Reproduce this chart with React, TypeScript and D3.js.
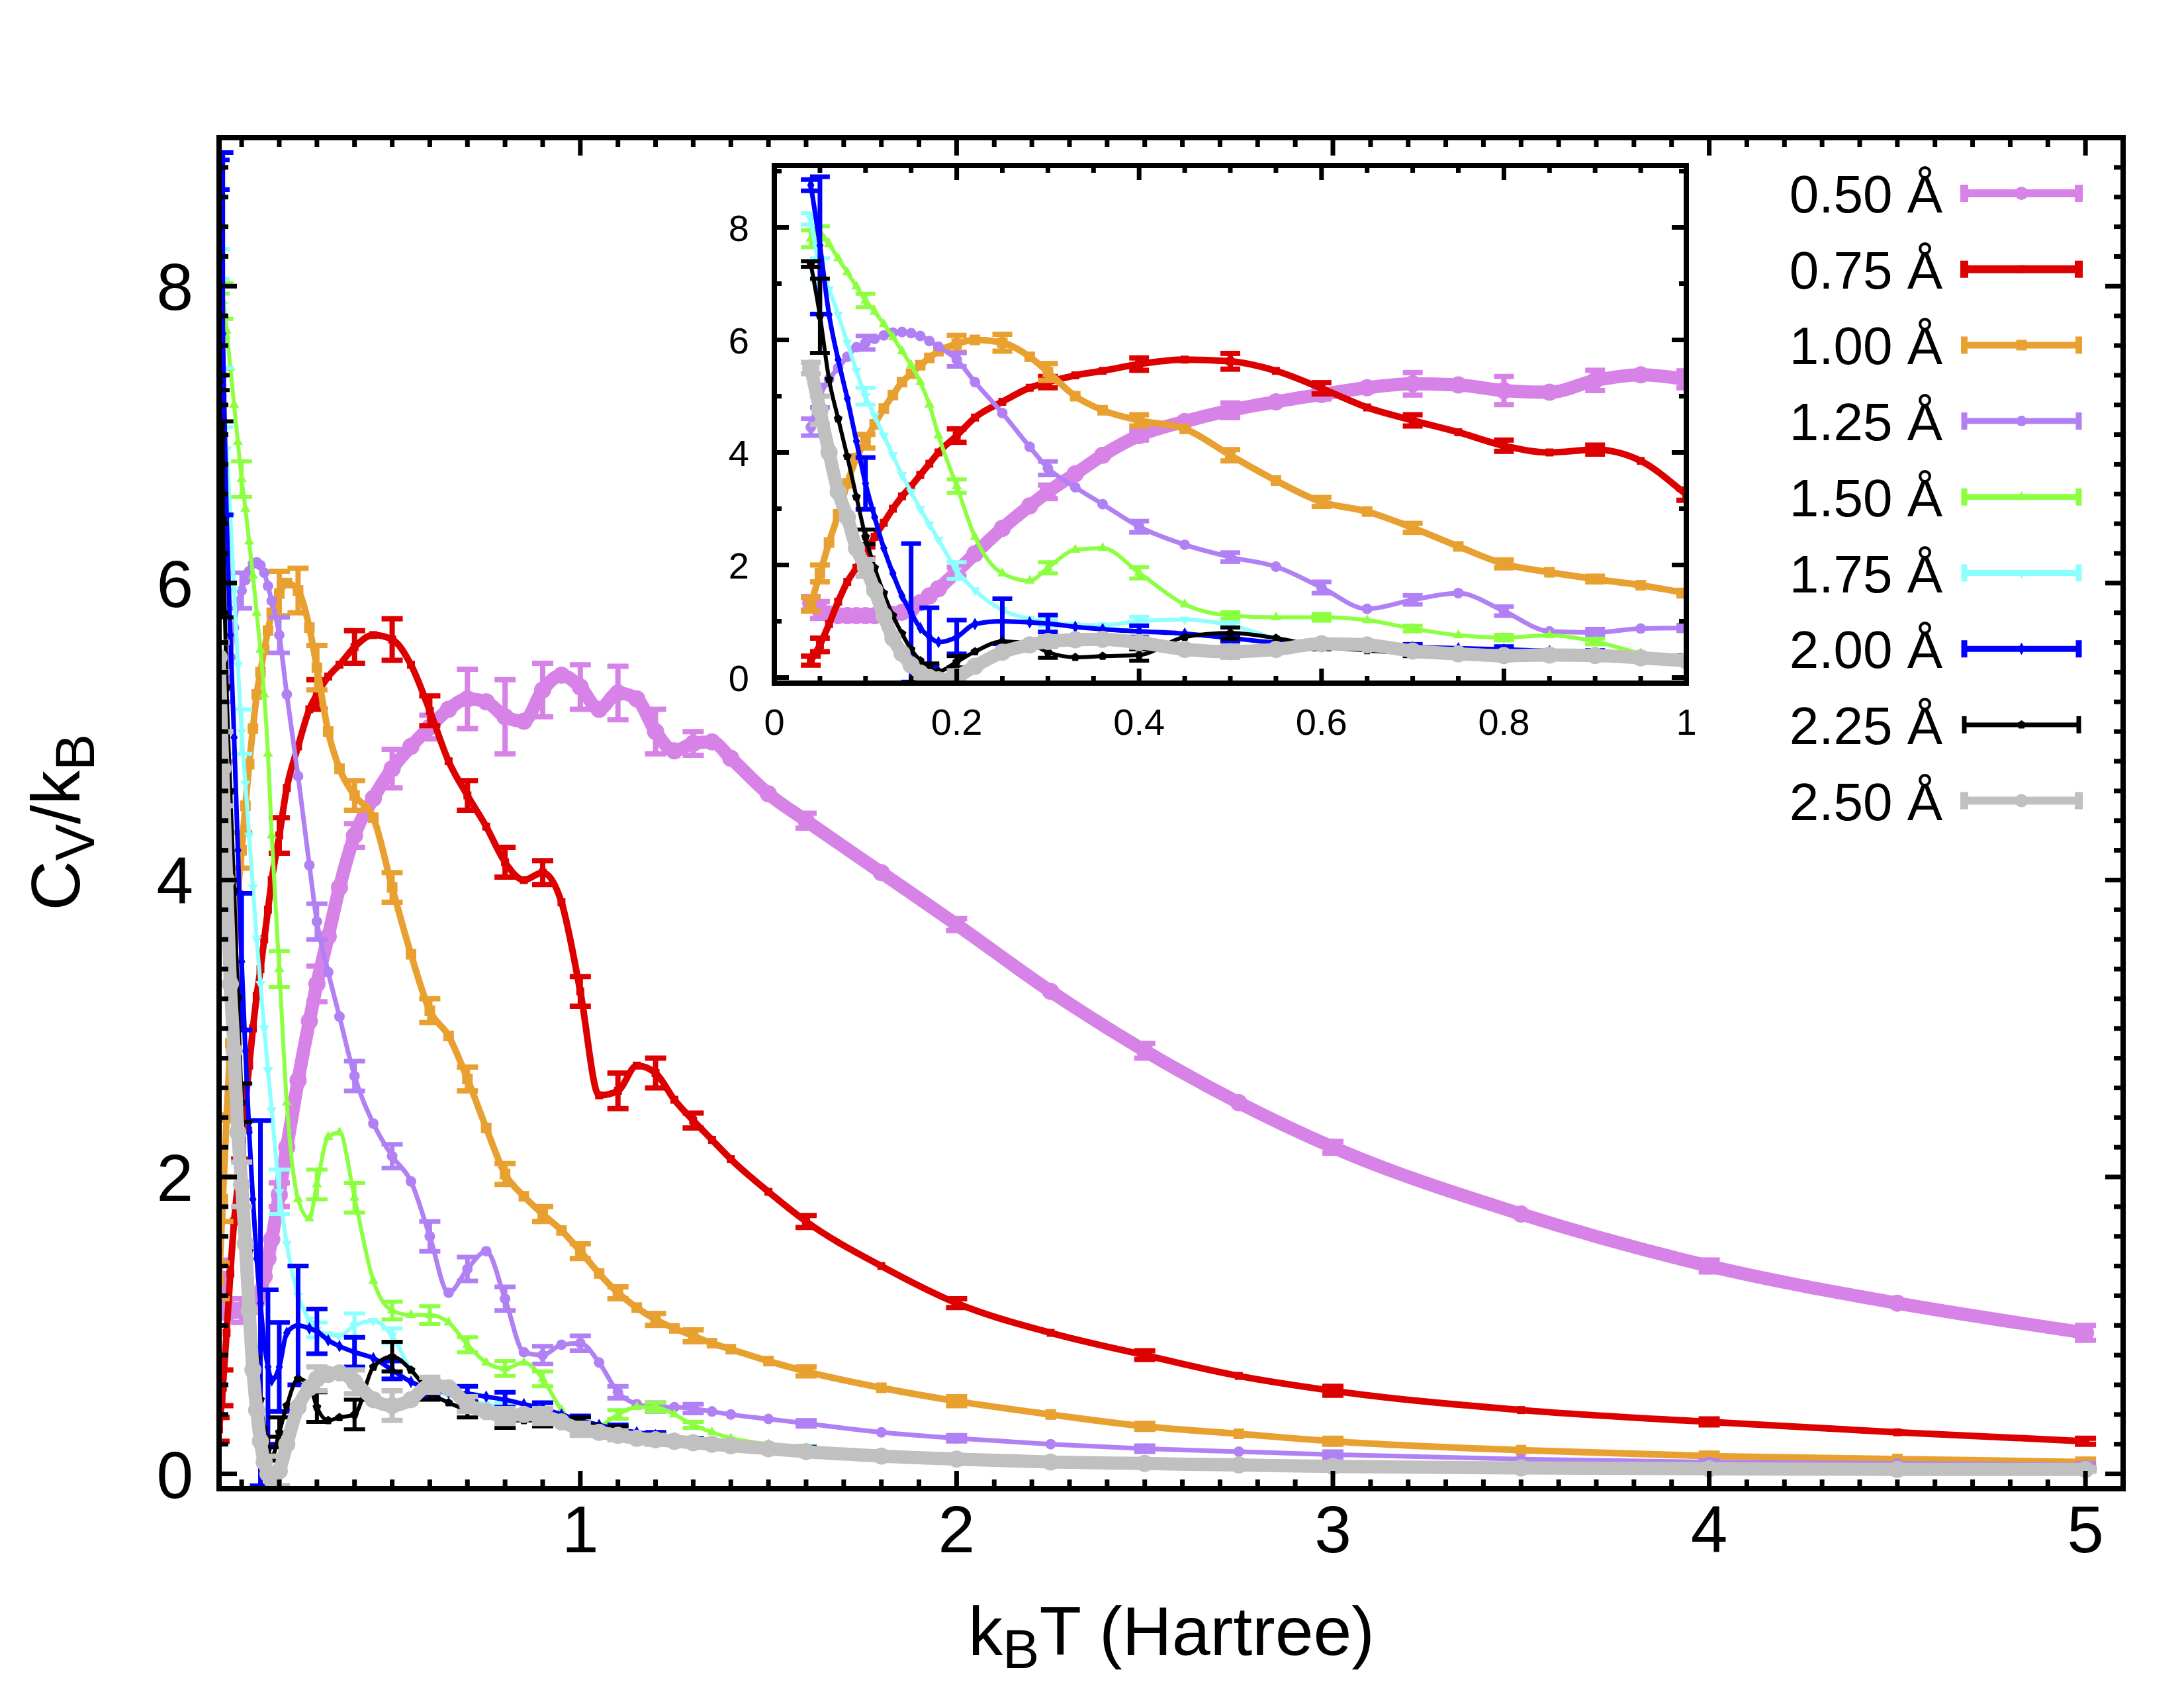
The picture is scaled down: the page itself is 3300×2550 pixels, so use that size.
import React from "react";
import * as d3 from "d3";

// ---------------- data ----------------
const temperature = [
  0.04, 0.05, 0.06, 0.07, 0.08, 0.09,
  0.10, 0.11, 0.12, 0.13, 0.14, 0.15, 0.16, 0.17, 0.18,
  0.20, 0.22, 0.25, 0.28, 0.30,
  0.33, 0.36, 0.40,
  0.45, 0.50, 0.55, 0.60, 0.65, 0.70, 0.75, 0.80, 0.85, 0.90, 0.95, 1.00,
  1.05, 1.10, 1.15, 1.20, 1.25, 1.30, 1.35, 1.40,
  1.50, 1.60, 1.80, 2.00,
  2.25, 2.50, 2.75, 3.00,
  3.50, 4.00, 4.50, 5.00,
];

const cv050 = [
  1.32, 1.2, 1.13, 1.1, 1.1, 1.1,
  1.1, 1.1, 1.1, 1.12, 1.16, 1.22, 1.33, 1.45, 1.58,
  1.88, 2.2, 2.65, 3.05, 3.3,
  3.62, 3.95, 4.3,
  4.55, 4.75, 4.9, 5.03, 5.15, 5.22, 5.2, 5.1, 5.07, 5.28, 5.38, 5.3,
  5.15, 5.26, 5.22, 5.0, 4.87, 4.92, 4.93, 4.82,
  4.58, 4.4, 4.05, 3.7,
  3.25, 2.85, 2.5, 2.2,
  1.75, 1.4, 1.15, 0.95,
];
const cv075 = [
  0.3, 0.58, 0.95, 1.35, 1.7, 1.95,
  2.22, 2.5, 2.75, 3.0, 3.22, 3.4, 3.6, 3.8, 4.0,
  4.3, 4.62, 4.9, 5.15, 5.25,
  5.37, 5.45, 5.57,
  5.65, 5.62, 5.45, 5.14, 4.8, 4.57, 4.36, 4.12, 4.0, 4.05, 3.85, 3.25,
  2.55, 2.58, 2.75, 2.7, 2.52, 2.38, 2.25, 2.12,
  1.9, 1.7, 1.4, 1.15,
  0.95, 0.8, 0.66, 0.56,
  0.43, 0.35, 0.28, 0.22,
];
const cv100 = [
  1.3, 1.85, 2.4, 2.9, 3.45, 3.9,
  4.2, 4.5, 4.78, 5.02, 5.25, 5.4, 5.55, 5.68, 5.8,
  5.93, 6.0, 5.95, 5.7, 5.43,
  5.0, 4.75, 4.57,
  4.42, 3.95, 3.5, 3.12, 2.95, 2.66, 2.33, 2.02, 1.87, 1.75, 1.64, 1.5,
  1.35, 1.22, 1.12, 1.04, 0.98, 0.93, 0.88, 0.84,
  0.76, 0.69, 0.58, 0.49,
  0.4, 0.32, 0.27, 0.22,
  0.16, 0.12, 0.1, 0.08,
];
const cv125 = [
  4.45, 5.0, 5.3, 5.5, 5.7, 5.87,
  5.95, 6.02, 6.08, 6.13, 6.14, 6.12, 6.07, 5.98, 5.88,
  5.65, 5.25, 4.7, 4.1, 3.72,
  3.38, 3.08, 2.68,
  2.36, 2.14, 1.97, 1.6, 1.22, 1.38, 1.5, 1.18, 0.82, 0.8, 0.87, 0.88,
  0.75, 0.55, 0.47, 0.45, 0.45, 0.44, 0.42, 0.4,
  0.37, 0.34, 0.28, 0.24,
  0.2, 0.17, 0.15, 0.13,
  0.1, 0.08, 0.07, 0.06,
];
const cv150 = [
  7.8, 7.9, 7.7, 7.45, 7.2, 6.95,
  6.7, 6.5, 6.28, 6.05, 5.8, 5.55, 5.25, 4.85, 4.3,
  3.4, 2.5, 1.85, 1.72, 1.95,
  2.27, 2.3, 1.86,
  1.3, 1.1, 1.07, 1.07, 1.02, 0.87, 0.75, 0.71, 0.75, 0.64, 0.43, 0.3,
  0.32, 0.4, 0.45, 0.45, 0.4, 0.33, 0.28, 0.24,
  0.2, 0.17, 0.13, 0.1,
  0.08, 0.07, 0.06, 0.05,
  0.04, 0.03, 0.03, 0.03,
];
const cv175 = [
  8.15, 7.25, 6.9, 6.45, 5.95, 5.45,
  5.0, 4.65, 4.3, 3.95, 3.6, 3.3, 3.0, 2.72, 2.45,
  1.9, 1.55, 1.2, 1.04, 0.97,
  0.94, 0.93, 1.0,
  1.03, 0.93, 0.7, 0.58, 0.53, 0.5, 0.47, 0.44, 0.41, 0.38, 0.35, 0.32,
  0.3, 0.28, 0.26, 0.24, 0.23, 0.22, 0.21, 0.2,
  0.18, 0.16, 0.13, 0.1,
  0.08, 0.07, 0.06, 0.05,
  0.04, 0.03, 0.03, 0.02,
];
const cv200 = [
  8.75, 7.68, 6.45, 5.65, 4.96, 4.2,
  3.45, 2.85, 2.3, 1.85, 1.45, 1.15, 0.88, 0.72, 0.63,
  0.72, 0.95, 1.0, 0.98, 0.96,
  0.9, 0.86, 0.82,
  0.78, 0.7, 0.62, 0.57, 0.55, 0.54, 0.52, 0.5, 0.47, 0.44, 0.4, 0.36,
  0.33, 0.3, 0.28, 0.26, 0.24, 0.22, 0.21, 0.2,
  0.18, 0.16, 0.13, 0.1,
  0.09, 0.08, 0.07, 0.06,
  0.05, 0.04, 0.04, 0.03,
];
const cv225 = [
  7.35, 6.43, 5.3, 4.6, 3.93, 3.21,
  2.5, 1.95, 1.5, 1.1, 0.78, 0.5, 0.3, 0.17, 0.11,
  0.28, 0.46, 0.64, 0.6, 0.45,
  0.36, 0.38, 0.4,
  0.72, 0.79, 0.7, 0.55, 0.48, 0.43, 0.39, 0.36, 0.36, 0.36, 0.36, 0.35,
  0.32, 0.29, 0.27, 0.25, 0.23, 0.22, 0.2, 0.19,
  0.17, 0.15, 0.12, 0.1,
  0.08, 0.07, 0.06, 0.05,
  0.04, 0.035, 0.03, 0.03,
];
const cv250 = [
  5.5, 4.75, 4.0, 3.3, 2.85, 2.3,
  1.95, 1.55, 1.1, 0.7, 0.43, 0.22, 0.08, 0.0, -0.04,
  0.02, 0.2, 0.45, 0.58, 0.64,
  0.67, 0.68, 0.62,
  0.5, 0.46, 0.5, 0.6, 0.58, 0.47, 0.42, 0.39, 0.4, 0.39, 0.35, 0.3,
  0.28, 0.26, 0.24, 0.23, 0.22, 0.21, 0.2, 0.19,
  0.17, 0.15, 0.12, 0.1,
  0.08, 0.07, 0.06, 0.05,
  0.04, 0.035, 0.03, 0.03,
];

// temperatures at which error bars are given
const errTemperature = [
  0.04, 0.05, 0.10, 0.15, 0.17, 0.20, 0.25, 0.30, 0.40, 0.50, 0.60, 0.70,
  0.80, 0.90, 1.00, 1.10, 1.20, 1.30, 1.60, 2.00, 2.50, 3.00, 4.00, 5.00,
];
const err050 = [0.12, 0.15, 0.08, 0, 0, 0.08, 0, 0.12, 0.08, 0.13, 0.08, 0.2, 0.25, 0.18, 0.15, 0.18, 0.15, 0.08, 0.05, 0.04, 0.05, 0.04, 0.04, 0.05];
const err075 = [0.08, 0.12, 0.1, 0, 0, 0.12, 0, 0.1, 0.11, 0.14, 0.1, 0.1, 0.1, 0.08, 0.1, 0.12, 0.1, 0.05, 0.04, 0.03, 0.03, 0.03, 0.02, 0.02];
const err100 = [0.12, 0.15, 0.12, 0, 0, 0.15, 0.15, 0.15, 0.1, 0.1, 0.08, 0.08, 0.07, 0.05, 0.05, 0.04, 0.04, 0.04, 0.03, 0.03, 0.02, 0.02, 0.02, 0.02];
const err125 = [0.15, 0.2, 0.12, 0, 0, 0.12, 0, 0.12, 0.1, 0.08, 0.1, 0.08, 0.08, 0.06, 0.05, 0.04, 0.03, 0.03, 0.02, 0.02, 0.02, 0.02, 0.01, 0.01];
const err150 = [0.15, 0.12, 0.12, 0, 0, 0.12, 0, 0.1, 0.1, 0.06, 0.06, 0.05, 0.05, 0.05, 0.03, 0.03, 0.03, 0.02, 0.02, 0.02, 0.02, 0.01, 0.01, 0.01];
const err175 = [0.1, 0.2, 0.15, 0, 0, 0.15, 0, 0.05, 0.08, 0.05, 0.05, 0.04, 0.04, 0.03, 0.03, 0.02, 0.02, 0.02, 0.02, 0.01, 0.01, 0.01, 0.01, 0.01];
const err200 = [0.1, 1.22, 0.46, 1.23, 0.52, 0.3, 0.4, 0.15, 0.1, 0.06, 0.05, 0.05, 0.05, 0.04, 0.03, 0.03, 0.02, 0.02, 0.02, 0.01, 0.01, 0.01, 0.01, 0.01];
const err225 = [0.05, 0.66, 0.13, 0, 0.08, 0.1, 0, 0.1, 0.1, 0.1, 0.05, 0.05, 0.05, 0.04, 0.03, 0.03, 0.02, 0.02, 0.02, 0.01, 0.01, 0.01, 0.01, 0.01];
const err250 = [0.1, 0.25, 0.15, 0, 0, 0.1, 0, 0.08, 0.08, 0.1, 0.05, 0.05, 0.05, 0.05, 0.04, 0.03, 0.03, 0.02, 0.02, 0.02, 0.01, 0.01, 0.01, 0.01];

const seriesLabels = ["0.50 Å", "0.75 Å", "1.00 Å", "1.25 Å", "1.50 Å", "1.75 Å", "2.00 Å", "2.25 Å", "2.50 Å"];
const mainXTicks = [1, 2, 3, 4, 5];
const mainYTicks = [0, 2, 4, 6, 8];
const insetXTicks = [0, 0.2, 0.4, 0.6, 0.8, 1];
const insetYTicks = [0, 2, 4, 6, 8];

const seriesValues = [cv050, cv075, cv100, cv125, cv150, cv175, cv200, cv225, cv250];
const seriesErrors = [err050, err075, err100, err125, err150, err175, err200, err225, err250];

// ---------------- styles ----------------
type Marker = "circle" | "square" | "triangle" | "triangleDown" | "diamond" | "pentagon";
const STYLES: { color: string; lw: number; legendLw: number; errLw: number; marker: Marker; r: number }[] = [
  { color: "#d682e6", lw: 20, legendLw: 12, errLw: 8, marker: "circle", r: 13 },
  { color: "#dd0000", lw: 10, legendLw: 12, errLw: 8, marker: "square", r: 6 },
  { color: "#e8a030", lw: 10, legendLw: 10, errLw: 8, marker: "square", r: 8 },
  { color: "#b080f4", lw: 7, legendLw: 9, errLw: 7, marker: "circle", r: 8 },
  { color: "#8cff40", lw: 6, legendLw: 9, errLw: 6, marker: "triangle", r: 8 },
  { color: "#8cffff", lw: 6, legendLw: 9, errLw: 6, marker: "triangleDown", r: 8 },
  { color: "#0000ff", lw: 7, legendLw: 9, errLw: 7, marker: "diamond", r: 8 },
  { color: "#000000", lw: 6, legendLw: 7, errLw: 6, marker: "pentagon", r: 7 },
  { color: "#c0c0c0", lw: 20, legendLw: 12, errLw: 8, marker: "circle", r: 13 },
];

const FONT = "'Liberation Sans', Arial, Helvetica, sans-serif";

const MAIN = { left: 331, right: 3208, top: 208, bottom: 2249 };
const INSET = { left: 1170, right: 2548, top: 250, bottom: 1032 };

function markerPath(kind: Marker, r: number): string {
  if (kind === "pentagon") {
    const pts = d3.range(5).map((i) => {
      const a = -Math.PI / 2 + (i * 2 * Math.PI) / 5;
      return [r * Math.cos(a), r * Math.sin(a)];
    });
    return "M" + pts.map((p) => p.join(",")).join("L") + "Z";
  }
  const sym = d3.symbol();
  if (kind === "circle") return sym.type(d3.symbolCircle).size(Math.PI * r * r)() as string;
  if (kind === "square") return sym.type(d3.symbolSquare).size(4 * r * r)() as string;
  if (kind === "diamond") return sym.type(d3.symbolDiamond).size(1.6 * r * r)() as string;
  return sym.type(d3.symbolTriangle).size(1.6 * r * r)() as string;
}

function Panel({ x, y, clipId, cap }: { x: d3.ScaleLinear<number, number>; y: d3.ScaleLinear<number, number>; clipId: string; cap: number }) {
  const line = d3
    .line<number>()
    .x((_, i) => x(temperature[i]))
    .y((v) => y(v))
    .curve(d3.curveMonotoneX);
  return (
    <g clipPath={`url(#${clipId})`}>
      {seriesValues.map((vals, si) => {
        const st = STYLES[si];
        const errs = seriesErrors[si];
        const mp = markerPath(st.marker, st.r);
        return (
          <g key={si}>
            <path d={line(vals) as string} fill="none" stroke={st.color} strokeWidth={st.lw} strokeLinejoin="round" />
            {errTemperature.map((t, ei) => {
              const e = errs[ei];
              if (!e) return null;
              const idx = temperature.findIndex((tt) => Math.abs(tt - t) < 1e-9);
              if (idx < 0) return null;
              const cx = x(t);
              const y1 = y(vals[idx] + e);
              const y2 = y(vals[idx] - e);
              return (
                <g key={ei} stroke={st.color} strokeWidth={st.errLw}>
                  <line x1={cx} x2={cx} y1={y1} y2={y2} />
                  <line x1={cx - cap} x2={cx + cap} y1={y1} y2={y1} />
                  <line x1={cx - cap} x2={cx + cap} y1={y2} y2={y2} />
                </g>
              );
            })}
            {vals.map((v, i) => (
              <path
                key={i}
                d={mp}
                fill={st.color}
                transform={`translate(${x(temperature[i])},${y(v)})${st.marker === "triangleDown" ? " rotate(180)" : ""}`}
              />
            ))}
          </g>
        );
      })}
    </g>
  );
}

function Ticks({
  box,
  xs,
  ys,
  x,
  y,
  major,
  minor,
  xMajor,
  yMajor,
}: {
  box: { left: number; right: number; top: number; bottom: number };
  xs: number[];
  ys: number[];
  x: d3.ScaleLinear<number, number>;
  y: d3.ScaleLinear<number, number>;
  major: number;
  minor: number;
  xMajor: number[];
  yMajor: number[];
}) {
  const isMajor = (v: number, arr: number[]) => arr.some((a) => Math.abs(a - v) < 1e-9);
  return (
    <g stroke="#000" strokeWidth={7}>
      {xs.map((v, i) => {
        const len = isMajor(v, xMajor) ? major : minor;
        const px = x(v);
        return (
          <g key={"x" + i}>
            <line x1={px} x2={px} y1={box.bottom} y2={box.bottom - len} />
            <line x1={px} x2={px} y1={box.top} y2={box.top + len} />
          </g>
        );
      })}
      {ys.map((v, i) => {
        const len = isMajor(v, yMajor) ? major : minor;
        const py = y(v);
        return (
          <g key={"y" + i}>
            <line x1={box.left} x2={box.left + len} y1={py} y2={py} />
            <line x1={box.right} x2={box.right - len} y1={py} y2={py} />
          </g>
        );
      })}
    </g>
  );
}

export default function App() {
  const mainX = d3.scaleLinear().domain([0.04, 5.1]).range([MAIN.left, MAIN.right]);
  const mainY = d3.scaleLinear().domain([-0.1, 9.0]).range([MAIN.bottom, MAIN.top]);
  const insX = d3.scaleLinear().domain([0, 1]).range([INSET.left, INSET.right]);
  const insY = d3.scaleLinear().domain([-0.1, 9.1]).range([INSET.bottom, INSET.top]);

  const mainXTickVals = d3.range(1, 51).map((i) => i / 10);
  const mainYTickVals = d3.range(0, 45).map((i) => i / 5);
  const insXTickVals = d3.range(0, 21).map((i) => i / 20);
  const insYTickVals = d3.range(0, 10);

  const legendTop = 292;
  const legendStep = 114.7;

  return (
    <svg
      width={3300}
      height={2550}
      viewBox="0 0 3300 2550"
      style={{ position: "absolute", left: 0, top: 0, display: "block", background: "#fff" }}
      fontFamily={FONT}
    >
      <defs>
        <clipPath id="mainClip">
          <rect x={MAIN.left} y={MAIN.top} width={MAIN.right - MAIN.left} height={MAIN.bottom - MAIN.top} />
        </clipPath>
        <clipPath id="insetClip">
          <rect x={INSET.left} y={INSET.top} width={INSET.right - INSET.left} height={INSET.bottom - INSET.top} />
        </clipPath>
      </defs>
      <rect x={0} y={0} width={3300} height={2550} fill="#fff" />

      {/* main panel */}
      <Panel x={mainX} y={mainY} clipId="mainClip" cap={16} />
      <Ticks box={MAIN} xs={mainXTickVals} ys={mainYTickVals} x={mainX} y={mainY} major={27} minor={14} xMajor={mainXTicks} yMajor={mainYTicks} />
      <rect x={MAIN.left} y={MAIN.top} width={MAIN.right - MAIN.left} height={MAIN.bottom - MAIN.top} fill="none" stroke="#000" strokeWidth={8} />

      {mainXTicks.map((t) => (
        <text key={"mx" + t} x={mainX(t)} y={2345} fontSize={100} textAnchor="middle">
          {t}
        </text>
      ))}
      {mainYTicks.map((t) => (
        <text key={"my" + t} x={292} y={mainY(t) + 36} fontSize={100} textAnchor="end">
          {t}
        </text>
      ))}

      <text x={1770} y={2500} fontSize={104} textAnchor="middle">
        k<tspan fontSize={83} dy={20}>B</tspan>
        <tspan dy={-20}>T (Hartree)</tspan>
      </text>
      <text transform="translate(120,1242) rotate(-90)" fontSize={104} textAnchor="middle">
        C<tspan fontSize={83} dy={22}>V</tspan>
        <tspan dy={-22}>/k</tspan>
        <tspan fontSize={83} dy={22}>B</tspan>
      </text>

      {/* legend */}
      {seriesLabels.map((lab, i) => {
        const st = STYLES[i];
        const cy = legendTop + i * legendStep;
        const x1 = 2968;
        const x2 = 3141;
        const mp = markerPath(st.marker, Math.min(st.r, 10));
        return (
          <g key={"leg" + i}>
            <text x={2935} y={cy + 29} fontSize={80} textAnchor="end">
              {lab}
            </text>
            <g stroke={st.color} strokeWidth={st.legendLw}>
              <line x1={x1} x2={x2} y1={cy} y2={cy} />
              <line x1={x1} x2={x1} y1={cy - 13} y2={cy + 13} />
              <line x1={x2} x2={x2} y1={cy - 13} y2={cy + 13} />
            </g>
            <path
              d={mp}
              fill={st.color}
              transform={`translate(${(x1 + x2) / 2},${cy})${st.marker === "triangleDown" ? " rotate(180)" : ""}`}
            />
          </g>
        );
      })}

      {/* inset */}
      <rect x={INSET.left} y={INSET.top} width={INSET.right - INSET.left} height={INSET.bottom - INSET.top} fill="#fff" />
      <Panel x={insX} y={insY} clipId="insetClip" cap={15} />
      <Ticks box={INSET} xs={insXTickVals} ys={insYTickVals} x={insX} y={insY} major={22} minor={11} xMajor={insetXTicks} yMajor={insetYTicks} />
      <rect x={INSET.left} y={INSET.top} width={INSET.right - INSET.left} height={INSET.bottom - INSET.top} fill="none" stroke="#000" strokeWidth={8} />
      {insetXTicks.map((t) => (
        <text key={"ix" + t} x={insX(t)} y={1110} fontSize={56} textAnchor="middle">
          {t}
        </text>
      ))}
      {insetYTicks.map((t) => (
        <text key={"iy" + t} x={1132} y={insY(t) + 20} fontSize={56} textAnchor="end">
          {t}
        </text>
      ))}
    </svg>
  );
}
